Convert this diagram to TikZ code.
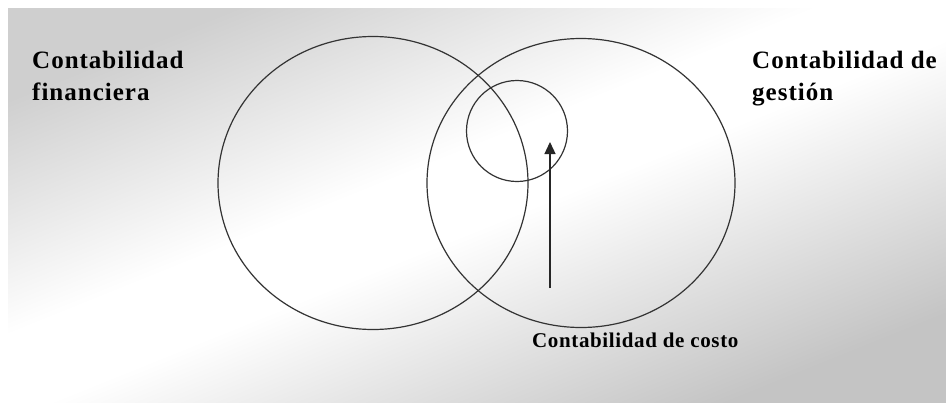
\documentclass[tikz,border=0pt]{standalone}
\usepackage{fontspec}
\setmainfont{Liberation Serif}
\newfontfamily\setfont[LetterSpace=4]{Liberation Serif}
\newfontfamily\costfont[LetterSpace=3]{Liberation Serif}
\usetikzlibrary{shapes.geometric,arrows.meta}
\pgfdeclareverticalshading{sheen}{100bp}{color(0bp)=(black!23); color(25bp)=(black!23);
  color(48bp)=(white); color(55bp)=(white); color(75bp)=(black!19); color(100bp)=(black!19)}

\begin{document}
\begin{tikzpicture}[
  x=1pt, y=-1pt,
  venn/.style={draw=black!80, line width=1.2pt, inner sep=0pt},
  setlbl/.style={font=\setfont\bfseries\fontsize{25}{32}\selectfont,
    align=left, inner sep=0pt, anchor=north west},
  costlbl/.style={font=\costfont\bfseries\fontsize{21}{25}\selectfont,
    inner sep=0pt, anchor=north west},
  arr/.style={-{Triangle[length=12pt, width=11pt]}, line width=1.3pt, black!85},
]
\useasboundingbox (0,0) rectangle (946,402);
% background
\shade[shading=sheen, shading angle=22] (8,8) rectangle (946,402);

% the two large sets and the small one
\node[venn, ellipse, minimum width=310pt, minimum height=293pt] (fin) at (373,183) {};
\node[venn, ellipse, minimum width=308pt, minimum height=289pt] (ges) at (581,183) {};
\node[venn, circle, minimum size=101pt] (cos) at (517,131) {};

% labels
\node[setlbl] (finlbl) at (32,51) {Contabilidad\\financiera};
\node[setlbl] (geslbl) at (752,51) {Contabilidad de\\gestión};
\node[costlbl] (coslbl) at (532,333) {Contabilidad de costo};

% pointer into the small set
\coordinate (tail) at (550,288);
\coordinate (tip) at (550,142);
\draw[arr] (tail) -- (tip);
\end{tikzpicture}
\end{document}
